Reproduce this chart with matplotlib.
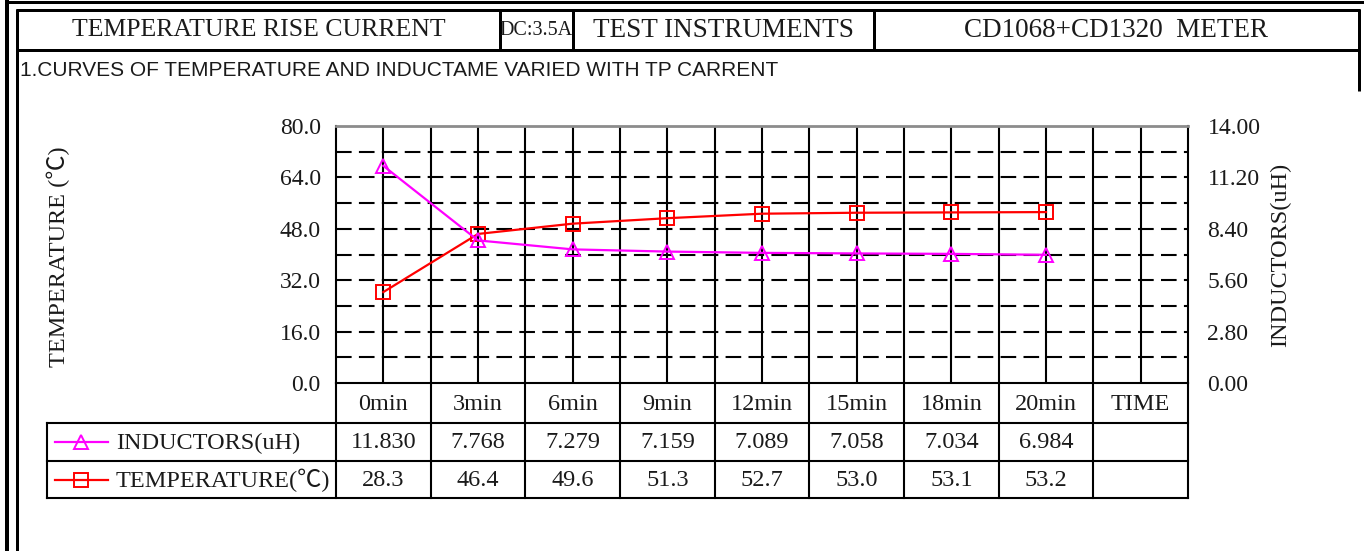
import matplotlib
matplotlib.use("Agg")
import matplotlib.pyplot as plt
from matplotlib.lines import Line2D
from matplotlib import font_manager

# ---------------- data ----------------
time_labels = ["0min", "3min", "6min", "9min", "12min", "15min", "18min", "20min", "TIME"]
inductors = [11.830, 7.768, 7.279, 7.159, 7.089, 7.058, 7.034, 6.984]
temperature = [28.3, 46.4, 49.6, 51.3, 52.7, 53.0, 53.1, 53.2]
left_ticks = [0.0, 16.0, 32.0, 48.0, 64.0, 80.0]
right_ticks = [0.00, 2.80, 5.60, 8.40, 11.20, 14.00]
header_cells = ["TEMPERATURE RISE CURRENT", "DC:3.5A", "TEST INSTRUMENTS", "CD1068+CD1320  METER"]
subtitle = "1.CURVES OF TEMPERATURE AND INDUCTAME VARIED WITH TP CARRENT"
ind_name = "INDUCTORS(uH)"
temp_name = "TEMPERATURE(℃)"
left_label = "TEMPERATURE (℃)"
right_label = "INDUCTORS(uH)"

# ---------------- fonts ----------------
names = {f.name for f in font_manager.fontManager.ttflist}
SERIF = ["Liberation Serif", "Noto Sans CJK SC", "DejaVu Sans"]
SANS = (["Liberation Sans Narrow"] if "Liberation Sans Narrow" in names else []) + ["Liberation Sans", "DejaVu Sans"]
sub_size = 18.5 if "Liberation Sans Narrow" in names else 15
plt.rcParams["font.family"] = SERIF

W, H = 1364, 551
fig = plt.figure(figsize=(W / 100, H / 100), dpi=100)
fig.patch.set_facecolor("white")
TXT = "#1a1a1a"


def fx(px):
    return px / W


def fy(py):
    return 1 - py / H


def fig_line(x0, y0, x1, y1, lwpx):
    fig.add_artist(Line2D([fx(x0), fx(x1)], [fy(y0), fy(y1)], transform=fig.transFigure,
                          color="black", lw=lwpx * 0.72, solid_capstyle="butt"))


# ---------------- frame ----------------
fig_line(5, 1.5, 1364, 1.5, 3)      # outer top
fig_line(7, 0, 7, 551, 4)           # outer left
fig_line(15.5, 10, 1360, 10, 3)     # inner top
fig_line(17, 8.5, 17, 551, 3)       # inner left
fig_line(1358.5, 8.5, 1358.5, 91, 3)  # inner right (two rows)
fig_line(17, 49.5, 1358.5, 49.5, 3)   # header bottom
cell_edges = [17, 500, 573, 874, 1358.5]
cell_sizes = [18.5, 14.5, 19.5, 19.5]
for xe in cell_edges[1:-1]:
    fig_line(xe, 10, xe, 49.5, 3)
for i, txt in enumerate(header_cells):
    fig.text(fx((cell_edges[i] + cell_edges[i + 1]) / 2), fy(30.5), txt, ha="center", va="center",
             fontsize=cell_sizes[i], family=SERIF, color=TXT)
fig.text(fx(20), fy(71), subtitle, ha="left", va="center", fontsize=sub_size, family=SANS, color=TXT)

# ---------------- chart ----------------
AX_L, AX_R, AX_T, AX_B = 336, 1188, 126, 383
ax = fig.add_axes([fx(AX_L), fy(AX_B), (AX_R - AX_L) / W, (AX_B - AX_T) / H])
ncol = len(time_labels)
ax.set_xlim(0, ncol)
ax.set_ylim(left_ticks[0], left_ticks[-1])
xs = [i + 0.5 for i in range(len(temperature))]

# grid
step = (left_ticks[1] - left_ticks[0]) / 2
v = step
while v < left_ticks[-1] - 1e-9:
    ax.axhline(v, color="black", lw=1.5, ls=(0, (7.5, 3.5)), zorder=1)
    v += step
for k in range(1, 2 * ncol):
    ax.axvline(k * 0.5, color="black", lw=1.5, zorder=1)

ax.set_xticks([])
ax.set_yticks(left_ticks)
ax.set_yticklabels([f"{t:.1f}" for t in left_ticks])
ax.tick_params(axis="y", length=0, pad=11, labelsize=17, colors=TXT)
for s in ["left", "right", "bottom"]:
    ax.spines[s].set_color("black")
    ax.spines[s].set_linewidth(1.5)
ax.spines["top"].set_color("#8c8c8c")
ax.spines["top"].set_linewidth(2)

ax.plot(xs, temperature, color="#FF0000", lw=1.6, marker="s", ms=9.5, mfc="none", mew=1.4, zorder=4)

ax2 = ax.twinx()
ax2.set_ylim(right_ticks[0], right_ticks[-1])
ax2.set_yticks(right_ticks)
ax2.set_yticklabels([f"{t:.2f}" for t in right_ticks])
ax2.tick_params(axis="y", length=0, pad=14, labelsize=17, colors=TXT)
for s in ax2.spines.values():
    s.set_visible(False)
ax2.plot(xs, inductors, color="#FF00FF", lw=1.6, marker="^", ms=10.5, mfc="none", mew=1.4, zorder=4)

ax.text((58 - AX_L) / (AX_R - AX_L), (AX_B - 257) / (AX_B - AX_T), left_label, transform=ax.transAxes,
        rotation=90, ha="center", va="center", fontsize=17.5, family=SERIF, color=TXT)
ax.text((1281 - AX_L) / (AX_R - AX_L), (AX_B - 255) / (AX_B - AX_T), right_label, transform=ax.transAxes,
        rotation=90, ha="center", va="center", fontsize=17.5, family=SERIF, color=TXT)

# ---------------- data table ----------------
T_L, T_B = 47, 498
row_edges = [0, 40, 78, 115]  # pixel offsets below the axis bottom
colw = (AX_R - AX_L) / ncol
tax = fig.add_axes([fx(T_L), fy(T_B), (AX_R - T_L) / W, (T_B - AX_B) / H])
tax.axis("off")
x_left = (T_L - AX_L) / colw
tax.set_xlim(x_left, ncol)
tax.set_ylim(row_edges[-1], 0)

lwt = 1.5
for r in row_edges[1:]:
    tax.plot([x_left, ncol], [r, r], color="black", lw=lwt, clip_on=False, solid_capstyle="projecting")
tax.plot([x_left, x_left], [row_edges[1], row_edges[-1]], color="black", lw=lwt, clip_on=False)
for k in range(ncol + 1):
    tax.plot([k, k], [0, row_edges[-1]], color="black", lw=lwt, clip_on=False)


def mid(a, b):
    return (a + b) / 2


for i, lab in enumerate(time_labels):
    tax.text(i + 0.5, mid(row_edges[0], row_edges[1]) + 1, lab, ha="center", va="center", fontsize=17.5,
             color=TXT)
for i, val in enumerate(inductors):
    tax.text(i + 0.5, mid(row_edges[1], row_edges[2]) + 1, f"{val:.3f}", ha="center", va="center",
             fontsize=17.5, color=TXT)
for i, val in enumerate(temperature):
    tax.text(i + 0.5, mid(row_edges[2], row_edges[3]) + 1, f"{val:.1f}", ha="center", va="center",
             fontsize=17.5, color=TXT)

# legend keys in the table label column
lx0, lx1, ltx = (55 - AX_L) / colw, (108 - AX_L) / colw, (116 - AX_L) / colw
for (r0, r1), col, mk, ms, name in [((row_edges[1], row_edges[2]), "#FF00FF", "^", 10.5, ind_name),
                                     ((row_edges[2], row_edges[3]), "#FF0000", "s", 9.5, temp_name)]:
    yc = mid(r0, r1)
    tax.plot([lx0, lx1], [yc, yc], color=col, lw=1.6, clip_on=False)
    tax.plot([mid(lx0, lx1)], [yc], color=col, marker=mk, ms=ms, mfc="none", mew=1.4, clip_on=False)
    tax.text(ltx, yc + 1, name, ha="left", va="center", fontsize=17.5, color=TXT)

fig.savefig("out.png", dpi=100, facecolor="white")
